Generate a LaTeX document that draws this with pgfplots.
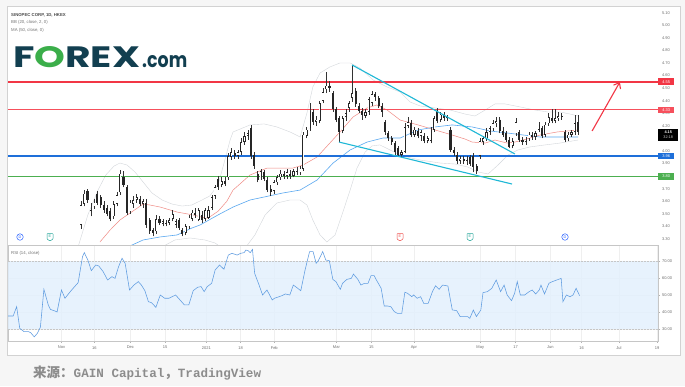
\documentclass[border=0pt]{standalone}
\usepackage{graphicx}
\usepackage{pgfplots}
\pgfplotsset{compat=1.18}
\usepgfplotslibrary{fillbetween}
\usetikzlibrary{arrows.meta}
\usepackage{pgfplotstable}
\usepackage{fontspec}
\setmainfont{Liberation Sans}
\newfontfamily\cjk{Noto Sans CJK SC}
\newfontfamily\monob{Liberation Mono}
\newfontfamily\logofont{Poppins}
\definecolor{gridc}{HTML}{EFEFEF}
\definecolor{tickc}{HTML}{6E6E6E}
\definecolor{lvlred}{HTML}{F23645}
\definecolor{lvlredb}{HTML}{F6505C}
\definecolor{lvlblue}{HTML}{1E6FD9}
\definecolor{lvlgreen}{HTML}{4CAF50}
\definecolor{trend}{HTML}{1FB8D6}
\definecolor{basis}{HTML}{F08A84}
\definecolor{maline}{HTML}{5AA8F0}
\definecolor{bbfill}{HTML}{F0F6FC}
\definecolor{bbline}{HTML}{D3D7DB}
\definecolor{rsiline}{HTML}{5E9BE0}
\definecolor{rsiband}{HTML}{E3F0FD}
\definecolor{logoteal}{HTML}{123F50}
\definecolor{logogreen}{HTML}{3BAE4A}
\definecolor{srcgray}{HTML}{8C8C8C}
\definecolor{iconblue}{HTML}{2962FF}
\definecolor{iconteal}{HTML}{26A69A}
\definecolor{iconred}{HTML}{EF5350}

\pgfplotstableread{
j o h l c
0 3.41 3.60 3.38 3.57
1 3.58 3.69 3.56 3.66
2 3.68 3.70 3.59 3.61
3 3.53 3.59 3.48 3.52
4 3.56 3.62 3.54 3.59
5 3.66 3.68 3.57 3.59
6 3.63 3.65 3.55 3.57
7 3.57 3.60 3.51 3.53
8 3.55 3.57 3.48 3.50
9 3.52 3.55 3.44 3.46
10 3.48 3.60 3.46 3.58
11 3.58 3.67 3.56 3.65
12 3.67 3.85 3.65 3.82
13 3.79 3.84 3.71 3.73
14 3.71 3.73 3.49 3.51
15 3.52 3.61 3.50 3.59
16 3.58 3.64 3.55 3.61
17 3.61 3.66 3.59 3.63
18 3.62 3.64 3.56 3.58
19 3.58 3.62 3.55 3.60
20 3.59 3.62 3.39 3.41
21 3.45 3.47 3.34 3.36
22 3.37 3.39 3.32 3.35
23 3.36 3.49 3.34 3.46
24 3.46 3.48 3.41 3.43
25 3.42 3.46 3.40 3.44
26 3.43 3.45 3.40 3.42
27 3.43 3.47 3.41 3.45
28 3.46 3.53 3.44 3.50
29 3.41 3.46 3.39 3.44
30 3.45 3.47 3.37 3.39
31 3.37 3.39 3.32 3.34
32 3.35 3.42 3.33 3.40
33 3.40 3.49 3.38 3.47
34 3.46 3.53 3.44 3.51
35 3.51 3.55 3.47 3.49
36 3.45 3.55 3.44 3.53
37 3.49 3.52 3.43 3.45
38 3.46 3.55 3.44 3.53
39 3.47 3.56 3.46 3.53
40 3.55 3.65 3.53 3.63
41 3.64 3.73 3.62 3.71
42 3.78 3.80 3.69 3.71
43 3.73 3.79 3.71 3.76
44 3.76 3.79 3.72 3.74
45 3.79 3.98 3.77 3.96
46 3.95 4.02 3.93 3.99
47 3.98 4.01 3.94 3.96
48 3.96 4.01 3.94 3.99
49 3.99 4.10 3.97 4.07
50 4.07 4.15 4.05 4.12
51 4.12 4.17 4.09 4.14
52 4.18 4.21 3.94 3.96
53 3.97 3.99 3.86 3.88
54 3.82 3.84 3.75 3.77
55 3.79 3.86 3.77 3.84
56 3.83 3.85 3.76 3.78
57 3.77 3.79 3.67 3.69
58 3.70 3.73 3.64 3.67
59 3.68 3.77 3.66 3.75
60 3.75 3.81 3.73 3.79
61 3.79 3.85 3.77 3.82
62 3.82 3.84 3.78 3.80
63 3.80 3.86 3.78 3.83
64 3.82 3.85 3.78 3.80
65 3.80 3.86 3.79 3.84
66 3.84 3.87 3.81 3.83
67 3.83 3.88 3.81 3.86
68 3.86 4.15 3.84 4.13
69 4.12 4.19 4.10 4.17
70 4.18 4.38 4.16 4.32
71 4.31 4.33 4.21 4.23
72 4.23 4.28 4.20 4.25
73 4.24 4.40 4.22 4.38
74 4.40 4.50 4.38 4.47
75 4.49 4.63 4.46 4.52
76 4.52 4.56 4.47 4.50
77 4.46 4.48 4.31 4.33
78 4.33 4.35 4.23 4.25
79 4.26 4.28 4.07 4.15
80 4.16 4.28 4.14 4.26
81 4.27 4.33 4.24 4.30
82 4.34 4.40 4.31 4.38
83 4.42 4.68 4.39 4.46
84 4.48 4.50 4.35 4.37
85 4.36 4.38 4.30 4.32
86 4.32 4.34 4.25 4.29
87 4.28 4.33 4.26 4.31
88 4.31 4.43 4.29 4.41
89 4.38 4.48 4.36 4.45
90 4.45 4.47 4.40 4.43
91 4.42 4.44 4.34 4.36
92 4.36 4.38 4.27 4.31
93 4.23 4.25 4.13 4.15
94 4.14 4.16 4.08 4.10
95 4.10 4.12 4.05 4.07
96 4.06 4.08 3.97 3.99
97 4.02 4.04 3.95 3.97
98 3.97 4.01 3.95 3.99
99 3.99 4.22 3.98 4.19
100 4.20 4.27 4.18 4.23
101 4.22 4.25 4.11 4.13
102 4.13 4.19 4.11 4.17
103 4.16 4.18 4.10 4.12
104 4.12 4.17 4.08 4.15
105 4.12 4.14 4.06 4.08
106 4.08 4.12 4.06 4.10
107 4.08 4.19 4.06 4.17
108 4.17 4.28 4.15 4.26
109 4.32 4.34 4.22 4.24
110 4.25 4.31 4.23 4.29
111 4.29 4.31 4.24 4.26
112 4.26 4.29 4.24 4.27
113 4.17 4.19 3.99 4.01
114 4.01 4.03 3.96 3.98
115 3.97 3.99 3.90 3.92
116 3.92 3.96 3.90 3.94
117 3.94 3.96 3.90 3.92
118 3.92 3.96 3.89 3.94
119 3.95 3.97 3.88 3.90
120 3.96 3.98 3.83 3.87
121 3.88 3.90 3.82 3.84
122 3.96 4.10 3.94 4.08
123 4.07 4.12 4.05 4.10
124 4.10 4.18 4.08 4.15
125 4.15 4.20 4.13 4.18
126 4.18 4.25 4.16 4.22
127 4.22 4.27 4.19 4.24
128 4.25 4.27 4.14 4.16
129 4.16 4.19 4.11 4.13
130 4.14 4.16 4.07 4.09
131 4.09 4.11 4.02 4.03
132 4.04 4.10 4.02 4.08
133 4.14 4.26 4.12 4.23
134 4.15 4.17 4.07 4.09
135 4.09 4.11 4.05 4.07
136 4.07 4.11 4.05 4.09
137 4.10 4.15 4.08 4.13
138 4.13 4.15 4.09 4.11
139 4.11 4.16 4.09 4.14
140 4.17 4.23 4.15 4.21
141 4.18 4.20 4.10 4.12
142 4.13 4.23 4.11 4.21
143 4.22 4.30 4.20 4.27
144 4.26 4.33 4.22 4.24
145 4.24 4.33 4.22 4.26
146 4.26 4.31 4.24 4.28
147 4.28 4.30 4.25 4.27
148 4.15 4.17 4.07 4.09
149 4.10 4.15 4.08 4.13
150 4.13 4.17 4.11 4.15
151 4.15 4.29 4.13 4.22
152 4.23 4.29 4.13 4.15
}\candles

\newcommand{\tickfont}{\fontsize{4}{4.5}\selectfont}

\begin{document}
\begin{tikzpicture}[x=1pt,y=1pt]
\fill[gray!7] (0,0) rectangle (685,-386);
\fill[white] (7,-6) rectangle (680,-355);
\draw[gray!35, line width=0.4pt] (7,-6) rectangle (680,-355);

% ---------------- price panel ----------------
\begin{axis}[
  at={(8pt,-6.5pt)}, anchor=north west, scale only axis,
  width=650pt, height=238.5pt,
  xmin=-22.32, xmax=176.45, ymin=3.252, ymax=5.149,
  axis line style={draw=gray!45, line width=0.4pt},
  xtick={-5.96,4.1,15.1,25.7,38.35,48.8,59.1,78.1,88.8,101.8,122.1,132.9,143.5,153.1,164.5,176.2},
  xticklabels={}, x tick style={draw=none},
  ytick={3.3,3.4,3.5,3.6,3.7,3.8,3.9,4.0,4.1,4.2,4.3,4.4,4.5,4.6,4.7,4.8,4.9,5.0,5.1},
  yticklabels={3.30,3.40,3.50,3.60,3.70,3.80,3.90,4.00,,4.20,4.30,4.40,4.50,4.60,4.70,4.80,4.90,5.00,5.10},
  ytick pos=right, yticklabel pos=right,
  tick align=outside, major tick length=2pt,
  y tick style={draw=gray!60, line width=0.3pt},
  yticklabel style={font=\tickfont, text=tickc, xshift=-1.5pt},
  grid=major, grid style={draw=gridc, line width=0.35pt},
]
% Bollinger bands
\addplot[name path=bbu, draw=bbline, line width=0.4pt] coordinates {
(-0.9,3.236) (2.1,3.491) (5.2,3.689) (7.6,3.809) (10.1,3.880) (11.9,3.904) (14.1,3.888)
(16.5,3.833) (19.0,3.753) (21.7,3.666) (24.8,3.610) (27.8,3.578) (30.9,3.562) (33.9,3.570)
(37.0,3.610) (39.4,3.642) (41.9,3.729) (44.0,3.928) (45.6,4.087) (46.5,4.151) (51.7,4.207)
(56.0,4.215) (59.9,4.191) (64.0,4.150) (67.0,4.111) (69.1,4.302) (70.9,4.509) (73.1,4.620)
(76.1,4.668) (79.2,4.700) (82.3,4.700) (85.3,4.660) (89.3,4.565) (93.6,4.509) (97.6,4.469)
(100.6,4.390) (103.7,4.358) (108.3,4.342) (112.8,4.326) (117.4,4.294)
(120.5,4.278) (123.6,4.326) (126.6,4.374) (129.7,4.374) (134.3,4.350) (138.8,4.326)
(142.8,4.310) (146.5,4.310) (149.5,4.294) (152.0,4.278)};
\addplot[name path=bbl, draw=bbline, line width=0.4pt] coordinates {
(-0.9,3.196) (5.8,3.117) (11.9,3.069) (18.0,3.117) (21.1,3.172) (24.2,3.228) (28.7,3.292)
(33.3,3.308) (37.9,3.292) (41.0,3.268) (44.0,3.212) (48.6,3.172) (53.2,3.332) (56.3,3.491)
(59.9,3.586) (63.9,3.610) (67.0,3.610) (69.1,3.570) (70.9,3.451) (73.1,3.332) (75.2,3.276)
(77.7,3.332) (79.8,3.491) (82.3,3.689) (84.4,3.864) (86.9,3.992) (89.0,4.040) (91.4,4.048)
(94.5,4.008) (97.6,3.968) (99.1,3.955)
(103.7,3.928) (109.8,3.904) (114.4,3.896) (118.3,3.872) (121.4,3.833) (124.5,3.817)
(127.5,3.888) (130.6,3.968) (133.6,4.008) (137.3,4.032) (141.9,4.048) (146.5,4.063)
(152.0,4.087)};
\addplot[fill=bbfill, draw=none] fill between[of=bbu and bbl];
% BB basis
\addplot[basis, line width=0.5pt] coordinates {
(5.8,3.276) (8.9,3.371) (11.9,3.451) (15.0,3.506) (19.0,3.578) (21.1,3.570) (24.2,3.554)
(29.4,3.514) (34.3,3.491) (36.7,3.475) (38.8,3.465) (41.9,3.52) (44.6,3.60) (46.5,3.689)
(51.7,3.809) (56.9,3.864) (64.8,3.864) (67.9,3.888) (72.2,3.952) (76.1,4.063) (79.2,4.151)
(83.2,4.270) (87.5,4.342) (90.5,4.366) (93.6,4.326) (97.6,4.246) (103.1,4.207)
(108.3,4.167) (113.5,4.127)
(117.4,4.095) (119.6,4.071) (123.6,4.063) (126.6,4.087) (130.3,4.063) (132.7,4.071)
(135.2,4.087) (140.4,4.127) (145.6,4.151) (152.0,4.167)};
% MA 50
\addplot[maline, line width=0.6pt] coordinates {
(8.9,3.172) (19.0,3.292) (24.2,3.316) (29.4,3.332) (33.9,3.387) (36.4,3.411) (41.9,3.491)
(46.5,3.554) (51.7,3.610) (61.8,3.666) (67.0,3.689) (72.2,3.769) (77.1,3.904) (82.3,4.008)
(87.5,4.071) (92.4,4.103) (97.6,4.103) (103.1,4.167)
(108.3,4.191) (113.5,4.207) (119.6,4.191) (125.1,4.159) (130.3,4.143) (135.2,4.127)
(140.4,4.111) (145.6,4.111) (152.0,4.111)};
% horizontal levels
\addplot[draw=lvlred, line width=1.7pt] coordinates {(-22.32,4.55) (176.45,4.55)};
\addplot[draw=lvlredb, line width=1.5pt] coordinates {(-22.32,4.33) (176.45,4.33)};
\addplot[draw=lvlblue, line width=1.5pt] coordinates {(-22.32,3.96) (176.45,3.96)};
\addplot[draw=lvlgreen, line width=1.1pt] coordinates {(-22.32,3.80) (176.45,3.80)};
% candles: wicks, bodies, hollow inner of rising candles
\addplot[black!80, line width=0.45pt, no markers, -, quiver={u=0, v=\thisrow{h}-\thisrow{l}}]
  table[x=j, y=l] {\candles};
\addplot[black!85, line width=2.1pt, no markers, -, quiver={u=0, v=\thisrow{c}-\thisrow{o}}]
  table[x=j, y=o] {\candles};
\addplot[white, line width=1.2pt, no markers, -, quiver={u=0, v={max(\thisrow{c}-\thisrow{o}-0.012,0)}}]
  table[x=j, y expr=\thisrow{o}+0.006] {\candles};
% wedge trendlines
\addplot[trend, line width=1.1pt] coordinates {(82.9,4.684) (132.7,3.976)};
\addplot[trend, line width=1.1pt] coordinates {(78.9,4.071) (131.8,3.737)};
% projected move arrow
\addplot[lvlred, line width=1.1pt, -{Straight Barb[length=5pt,width=8pt]}] coordinates {(156.3,4.159) (164.8,4.549)};
\end{axis}

% ---------------- RSI panel ----------------
\begin{axis}[
  at={(8pt,-245pt)}, anchor=north west, scale only axis,
  width=650pt, height=95.7pt,
  xmin=-22.32, xmax=176.45, ymin=23.35, ymax=79.15,
  axis line style={draw=gray!45, line width=0.4pt},
  xtick={-5.96,4.1,15.1,25.7,38.35,48.8,59.1,78.1,88.8,101.8,122.1,132.9,143.5,153.1,164.5,176.2},
  xticklabels={Nov,16,Dec,15,2021,18,Feb,Mar,15,Apr,May,17,Jun,16,Jul,19},
  xtick pos=bottom, ytick pos=right, yticklabel pos=right,
  ytick={30,40,50,60,70}, yticklabels={30.00,40.00,50.00,60.00,70.00},
  tick align=outside, major tick length=2pt,
  tick style={draw=gray!60, line width=0.3pt},
  ticklabel style={font=\tickfont, text=tickc},
  yticklabel style={xshift=-1.5pt},
  grid=major, grid style={draw=gridc, line width=0.35pt},
]
\fill[rsiband, opacity=0.85] (axis cs:-22.32,30) rectangle (axis cs:176.45,70);
\draw[gray!45, line width=0.35pt, dash pattern=on 1.5pt off 1.5pt] (axis cs:-22.32,70) -- (axis cs:176.45,70);
\draw[gray!45, line width=0.35pt, dash pattern=on 1.5pt off 1.5pt] (axis cs:-22.32,30) -- (axis cs:176.45,30);
\addplot[rsiline, line width=0.55pt] coordinates {
(-22.35,37.75) (-20.74,37.75) (-19.67,43.2) (-18.73,30.56) (-17.39,28.6) (-16.04,28.6)
(-15.37,28.04) (-14.3,25.6) (-13.36,27.6) (-12.42,31.15) (-11.34,53.3) (-10.0,44.2)
(-9.33,41.6) (-7.98,40.67) (-7.31,40.1) (-5.97,52.9) (-4.9,48.1) (-3.29,51.95) (-1.94,54.9)
(-0.87,57.2) (0.47,72.35) (1.01,74.7) (2.09,70.4) (3.16,64.2) (4.50,67.5) (5.44,66.9)
(6.79,63.6) (8.13,58.75) (9.47,60.7) (10.41,59.7) (11.49,66.5) (12.56,71.4) (13.5,68.5)
(14.84,52.9) (16.19,55.8) (17.53,57.8) (18.47,55.8) (19.54,52.5) (20.62,46.1) (21.56,45.55)
(22.9,42.8) (24.24,50) (25.59,48.1) (26.93,48.1) (28.94,50) (30.28,47.1) (31.63,44.2)
(32.97,44.2) (34.31,52.5) (35.66,54.5) (36.73,54.9) (37.67,51.95) (38.61,54.9) (39.95,56.8)
(41.03,64.6) (42.37,67.5) (43.71,65) (45.06,73.3) (46.13,74.3) (47.74,73.3) (48.82,74.3)
(49.89,74.7) (50.43,76.2) (51.1,75.85) (51.77,74.7) (52.44,76.6) (53.11,62.6) (54.46,55.8)
(55.53,50) (56.87,52.9) (57.41,51) (58.48,47.1) (59.16,48.1) (61.17,49.4) (62.51,50.6)
(63.86,50) (64.93,55.8) (65.87,54.5) (67.21,52.5) (68.56,64.9) (69.9,75.3) (70.97,75.3)
(71.91,68.5) (72.58,70) (73.92,75.3) (74.86,70.4) (75.94,70) (77.01,59.1) (77.95,57.8)
(79.3,53.3) (79.97,56.8) (81.31,59.1) (82.65,59.7) (83.33,62.2) (84.67,59.1) (85.61,55.8)
(86.68,56.8) (87.76,56.8) (88.7,61.3) (89.64,61.3) (90.44,58.4) (91.79,53.9) (92.72,43.6)
(93.66,43.6) (94.74,43.2) (95.81,40.3) (96.76,39.3) (98.1,39.3) (99.04,51.6) (99.84,51)
(101.18,49) (101.72,50) (102.8,48.1) (103.87,49) (104.81,45.1) (106.16,45.1) (107.5,52.1)
(108.44,55.4) (109.51,53.3) (110.58,55.8) (112.2,55.25) (113.54,41.3) (114.88,40.9)
(115.95,37.4) (117.3,37.4) (118.24,37.4) (118.91,36.4) (119.98,41.25) (120.92,37.4)
(122.27,41.25) (122.94,51.4) (124.28,51.95) (125.62,53.9) (126.97,58.75) (128.31,51.95)
(129.38,55.8) (130.32,50) (131.66,46.7) (132.6,51) (133.41,57.8) (134.35,50) (135.69,50)
(137.03,51.95) (137.97,52.9) (139.05,50.6) (140.12,52.9) (140.66,55.8) (141.74,50.6)
(143.08,56.8) (144.15,57.8) (145.5,58.75) (146.84,59.7) (147.38,46.1) (148.45,50)
(149.53,49) (150.47,50) (151.41,53.9) (152.48,49.6)};
\end{axis}

% ---------------- annotations ----------------
\node[anchor=west, inner sep=0, font=\fontsize{4.3}{5}\selectfont\bfseries, text=black!70] at (11,-15) {SINOPEC CORP, 1D, HKEX};
\node[anchor=west, inner sep=0, font=\fontsize{4.3}{5}\selectfont, text=black!55] at (11,-22.5) {BB (20, close, 2, 0)};
\node[anchor=west, inner sep=0, font=\fontsize{4.3}{5}\selectfont, text=black!55] at (11,-30) {MA (50, close, 0)};
\node[anchor=west, inner sep=0, font=\fontsize{4.3}{5}\selectfont, text=black!55] at (11,-253) {RSI (14, close)};
% logo
\node[anchor=south west, inner sep=0, text=logoteal] at (13,-68)
  {\resizebox{127pt}{21pt}{\logofont\bfseries F\textcolor{logogreen}{O}REX}};
\node[anchor=south west, inner sep=0, text=logoteal] at (142,-68)
  {\resizebox{45pt}{12pt}{\logofont\bfseries .com}};
% price tags
\node[anchor=west, fill=lvlred, text=white, inner sep=0, minimum width=16pt, minimum height=6.5pt, font=\tickfont] at (658,-81.7) {4.55};
\node[anchor=west, fill=lvlredb, text=white, inner sep=0, minimum width=16pt, minimum height=6.5pt, font=\tickfont] at (658,-110) {4.33};
\node[anchor=west, fill=black, text=white, inner sep=0, minimum width=20pt, minimum height=12.5pt, align=center, font=\fontsize{3.8}{4.2}\selectfont] at (658,-134.8) {\textbf{4.15}\\{\color{white!80!black}32:18}};
\node[anchor=west, fill=lvlblue, text=white, inner sep=0, minimum width=16pt, minimum height=6.5pt, font=\tickfont] at (658,-156) {3.96};
\node[anchor=west, fill=lvlgreen, text=white, inner sep=0, minimum width=16pt, minimum height=6.5pt, font=\tickfont] at (658,-176.5) {3.80};
% event icons
\foreach \xx/\cc/\tt in {20/iconblue/D, 565/iconblue/D}{
  \node[circle, draw=\cc, fill=white, line width=0.5pt, inner sep=0, minimum size=6.5pt, text=\cc, font=\fontsize{3.8}{4}\selectfont] at (\xx,-237) {\tt};
}
\foreach \xx/\cc in {50/iconteal, 400/iconred, 470/iconteal}{
  \draw[draw=\cc, fill=white, line width=0.5pt, rounded corners=0.6pt] (\xx-3,-233.5) -- (\xx+3,-233.5) -- (\xx+3,-239) -- (\xx,-241) -- (\xx-3,-239) -- cycle;
  \node[text=\cc, inner sep=0, font=\fontsize{3.8}{4}\selectfont] at (\xx,-236.6) {E};
}
% source line
\node[anchor=west, inner sep=0, text=srcgray] at (33,-373)
  {\cjk\bfseries\fontsize{13.5}{13.5}\selectfont 来源：{\monob\bfseries\fontsize{12.6}{12.6}\selectfont GAIN Capital}，{\monob\bfseries\fontsize{12.6}{12.6}\selectfont TradingView}};
\pgfresetboundingbox
\useasboundingbox (0,0) rectangle (685,-386);
\end{tikzpicture}
\end{document}
